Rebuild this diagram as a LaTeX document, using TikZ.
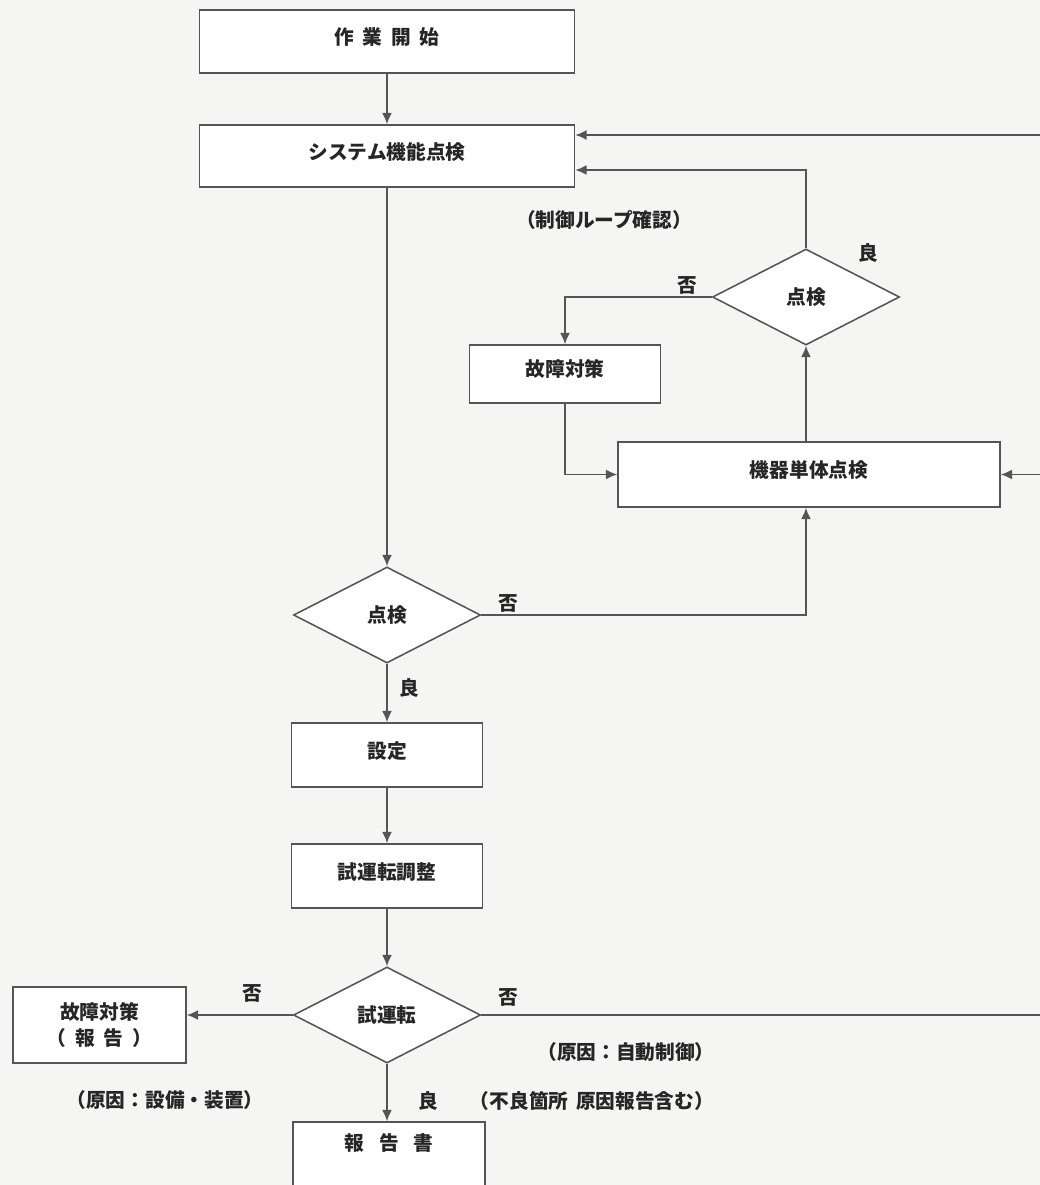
\documentclass[tikz,border=0pt]{standalone}
\usepackage{fontspec}
\setmainfont{Noto Sans CJK JP}
\usetikzlibrary{shapes.geometric,arrows.meta,calc}
\definecolor{paper}{HTML}{F5F5F3}
\definecolor{ln}{HTML}{555555}
\definecolor{ink}{HTML}{262626}
\newcommand\gp{\hspace{0.45em}}
\newcommand\gpw{\hspace{0.75em}}
\begin{document}
\begin{tikzpicture}[x=0.025cm,y=-0.025cm,
  font=\fontsize{14}{19}\selectfont\bfseries,
  box/.style={draw=ln,line width=1.1pt,fill=white,text=ink,inner sep=0pt,align=center},
  dia/.style={draw=ln,line width=1.1pt,fill=white,text=ink,shape=diamond,inner sep=0pt,minimum width=4.675cm,minimum height=2.4cm},
  lbl/.style={text=ink,inner sep=1pt},
  arr/.style={draw=ln,line width=1.1pt,-{Latex[length=8pt,width=7pt]}},
  ln/.style={draw=ln,line width=1.1pt}]
\useasboundingbox (0,0) rectangle (1040,1185);
\clip (0,0) rectangle (1040,1185);
\fill[paper] (0,0) rectangle (1040,1185);

% nodes
\node[box,minimum width=9.375cm,minimum height=1.575cm,text depth=0.25cm] (start) at (387,41.5) {作\gp 業\gp 開\gp 始};
\node[box,minimum width=9.375cm,minimum height=1.55cm,text depth=0.25cm] (sys) at (387,156) {システム機能点検};
\node[dia] (d1) at (806,297) {点検};
\node[box,minimum width=4.775cm,minimum height=1.45cm,text depth=0.3cm] (fault1) at (565,374) {故障対策};
\node[box,minimum width=9.55cm,minimum height=1.625cm,text depth=0.25cm] (unit) at (809,474.5) {機器単体点検};
\node[dia] (d2) at (387,615) {点検};
\node[box,minimum width=4.775cm,minimum height=1.6cm,text depth=0.25cm] (setting) at (387,755) {設定};
\node[box,minimum width=4.775cm,minimum height=1.6cm,text depth=0.25cm] (adj) at (387,876) {試運転調整};
\node[dia] (d3) at (387,1015) {試運転};
\node[box,minimum width=4.325cm,minimum height=1.9cm] (fault2) at (99.5,1025) {故障対策\\（\gp 報\gp 告\gp ）};
\node[box,minimum width=4.8cm,minimum height=2.0cm,text depth=1.0cm] (report) at (389,1162) {報\gpw 告\gpw 書};

\coordinate (rt1) at (1040,135);
\coordinate (rt2) at (1040,474.5);
\coordinate (rt3) at (1040,1015);

% connectors
\draw[arr] (start) -- (sys);
\draw[arr] (sys) -- (d2);
\draw[arr] (rt1) -- (rt1 -| sys.east);
\draw[arr] (d1.north) |- ([yshift=-0.35cm]sys.east);
\draw[arr] (d1.west) -| (fault1.north);
\draw[arr] (fault1.south) |- (unit.west);
\draw[arr] (d1.south |- unit.north) -- (d1.south);
\draw[arr] (rt2) -- (unit.east);
\draw[arr] (d2.east) -| (unit.south -| d1.south);
\draw[arr] (d2) -- (setting);
\draw[arr] (setting) -- (adj);
\draw[arr] (adj) -- (d3);
\draw[arr] (d3.west) -- (d3.west -| fault2.east);
\draw[ln] (d3.east) -- (rt3);
\draw[arr] (d3.south) -- (d3.south |- report.north);

% labels
\node[lbl] (l1) at (604,220) {（制御ループ確認）};
\node[lbl] (l2) at (868,253) {良};
\node[lbl] (l3) at (687,285) {否};
\node[lbl] (l4) at (508,603) {否};
\node[lbl] (l5) at (409,688) {良};
\node[lbl] (l6) at (252,993) {否};
\node[lbl] (l7) at (508,997) {否};
\node[lbl] (l8) at (626,1052) {（原因：自動制御）};
\node[lbl] (l9) at (165,1100) {（原因：設備・装置）};
\node[lbl] (l10) at (428,1101) {良};
\node[lbl] (l11) at (592,1101) {（不良箇所\hspace{0.4em}原因報告含む）};
\end{tikzpicture}
\end{document}
